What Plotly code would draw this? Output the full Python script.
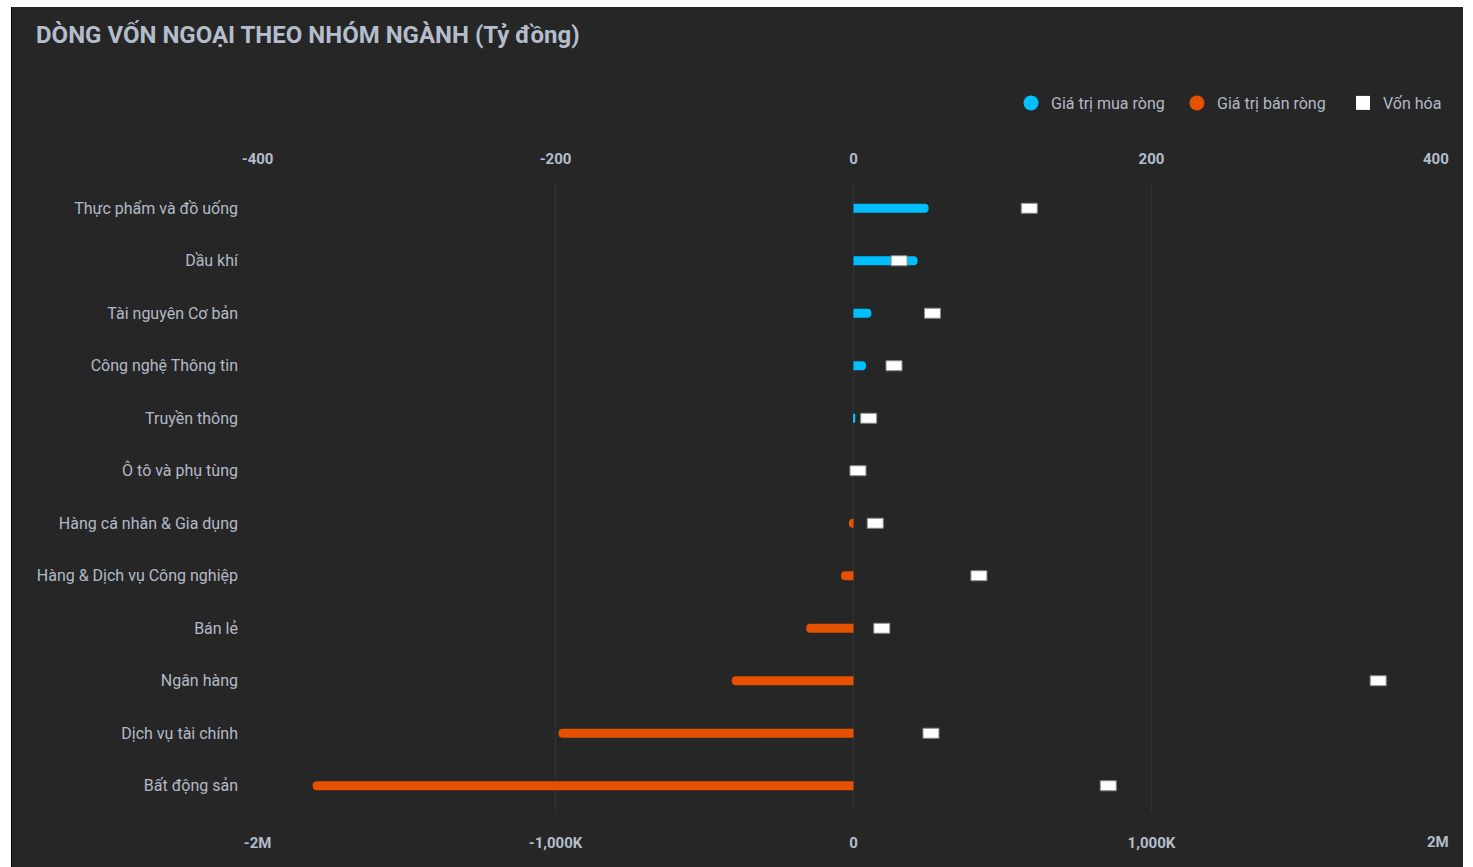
import plotly.graph_objects as go

# ---------------- data ----------------
categories = [
    "Thực phẩm và đồ uống",
    "Dầu khí",
    "Tài nguyên Cơ bản",
    "Công nghệ Thông tin",
    "Truyền thông",
    "Ô tô và phụ tùng",
    "Hàng cá nhân & Gia dụng",
    "Hàng & Dịch vụ Công nghiệp",
    "Bán lẻ",
    "Ngân hàng",
    "Dịch vụ tài chính",
    "Bất động sản",
]
net_buy = [50.4, 43.0, 12.0, 8.4, 1.2, 0, 0, 0, 0, 0, 0, 0]            # tỷ đồng
net_sell = [0, 0, 0, 0, 0, 0, -3.1, -8.4, -31.7, -81.7, -198.0, -363.0]  # tỷ đồng
market_cap = [590e3, 153e3, 265e3, 136e3, 51e3, 15e3, 73e3, 421e3, 95e3, 1761e3, 260e3, 855e3]

top_tickvals = [-400, -200, 0, 200, 400]
top_ticktext = ["-400", "-200", "0", "200", "400"]
bottom_tickvals = [-2e6, -1e6, 0, 1e6, 2e6]
bottom_ticktext = ["-2M", "-1,000K", "0", "1,000K", "2M"]

series_names = ["Giá trị mua ròng", "Giá trị bán ròng", "Vốn hóa"]

# ---------------- style ----------------
BG = "#262626"
TXT = "#b3bac6"
AXT = "#b4bdcc"
CYAN = "#00bfff"
ORANGE = "#e65100"
FIG_W, FIG_H = 1451, 860
M_L, M_R, M_T, M_B = 245, 13, 175, 55
PLOT_W = FIG_W - M_L - M_R
PLOT_H = FIG_H - M_T - M_B
EDGE = 1.001  # tiny padding so the edge gridlines are drawn
TOP_RANGE = [top_tickvals[0] * EDGE, top_tickvals[-1] * EDGE]
BOT_RANGE = [bottom_tickvals[0] * EDGE, bottom_tickvals[-1] * EDGE]
CAP_MARK_PX = 16
cap_w = CAP_MARK_PX * (BOT_RANGE[1] - BOT_RANGE[0]) / PLOT_W
cap_base = [v - cap_w / 2 for v in market_cap]
TICKFONT = dict(family="Roboto", size=15, color=AXT, weight="bold")

# the last label of each axis is right-aligned to the plot edge (as in the original)
top_labels = top_ticktext[:-1] + [""]
bottom_labels = bottom_ticktext[:-1] + [""]

fig = go.Figure()

fig.add_trace(go.Bar(
    y=categories, x=net_buy, orientation="h", name=series_names[0],
    marker=dict(color=CYAN, cornerradius=4, line=dict(width=0)),
    width=0.17, showlegend=False, xaxis="x", yaxis="y",
))
fig.add_trace(go.Bar(
    y=categories, x=net_sell, orientation="h", name=series_names[1],
    marker=dict(color=ORANGE, cornerradius=4, line=dict(width=0)),
    width=0.17, showlegend=False, xaxis="x", yaxis="y",
))
fig.add_trace(go.Bar(
    y=categories, x=[cap_w] * len(market_cap), base=cap_base, orientation="h",
    name=series_names[2],
    marker=dict(color="#ffffff", line=dict(color="#8a8a8a", width=1)),
    width=0.19, showlegend=False, xaxis="x2", yaxis="y",
    customdata=market_cap, hovertemplate="%{y}: %{customdata:,.0f}<extra></extra>",
))

# legend entries
fig.add_trace(go.Scatter(x=[None], y=[None], mode="markers", name=series_names[0],
                         marker=dict(symbol="circle", size=15, color=CYAN)))
fig.add_trace(go.Scatter(x=[None], y=[None], mode="markers", name=series_names[1],
                         marker=dict(symbol="circle", size=15, color=ORANGE)))
fig.add_trace(go.Scatter(x=[None], y=[None], mode="markers", name=series_names[2],
                         marker=dict(symbol="square", size=14, color="#ffffff")))

fig.add_annotation(
    x=top_tickvals[-1], xref="x", xanchor="right", xshift=2,
    y=1 + 23 / PLOT_H, yref="paper", yanchor="middle",
    text=top_ticktext[-1], showarrow=False, font=TICKFONT,
)
fig.add_annotation(
    x=bottom_tickvals[-1], xref="x2", xanchor="right", xshift=2,
    y=-30 / PLOT_H, yref="paper", yanchor="middle",
    text=bottom_ticktext[-1], showarrow=False, font=TICKFONT,
)

fig.update_layout(
    width=FIG_W, height=FIG_H,
    margin=dict(l=M_L, r=M_R, t=M_T, b=M_B, pad=0, autoexpand=False),
    paper_bgcolor=BG, plot_bgcolor=BG,
    barmode="overlay",
    font=dict(family="Roboto", color=TXT, size=16),
    title=dict(
        text="<b>DÒNG VỐN NGOẠI THEO NHÓM NGÀNH (Tỷ đồng)</b>",
        font=dict(family="Roboto", size=24, color=AXT),
        x=24 / FIG_W, xref="container", xanchor="left",
        y=1 - 28 / FIG_H, yref="container", yanchor="middle",
    ),
    legend=dict(
        orientation="h", x=(1011 - 257) / PLOT_W, xanchor="left",
        y=1 + (175 - 96) / PLOT_H, yanchor="middle",
        font=dict(family="Roboto", size=16, color=TXT), bgcolor="rgba(0,0,0,0)",
        entrywidth=121, entrywidthmode="pixels",
    ),
    xaxis=dict(
        side="top", range=TOP_RANGE, tickvals=top_tickvals, ticktext=top_labels,
        showgrid=True, gridcolor="#323232", gridwidth=1, zeroline=False, showline=False,
        ticks="", ticklabelstandoff=14, automargin=False,
        tickfont=TICKFONT, fixedrange=True,
    ),
    xaxis2=dict(
        overlaying="x", side="bottom", range=BOT_RANGE, tickvals=bottom_tickvals,
        ticktext=bottom_labels, showgrid=False, zeroline=False, showline=False,
        ticks="", ticklabelstandoff=20, automargin=False,
        tickfont=TICKFONT, fixedrange=True,
    ),
    yaxis=dict(
        autorange="reversed", showgrid=False, zeroline=False, showline=False,
        ticks="", ticklabelstandoff=18, automargin=False,
        tickfont=dict(family="Roboto", size=16, color=TXT),
        fixedrange=True,
    ),
)

fig.write_html(
    "out.html",
    post_script="document.body.style.margin='7px 0 0 11px';"
                "document.body.style.background='#ffffff';"
                "var d=document.querySelector('.plotly-graph-div');"
                "d.style.borderLeft='1px solid #000';",
)
